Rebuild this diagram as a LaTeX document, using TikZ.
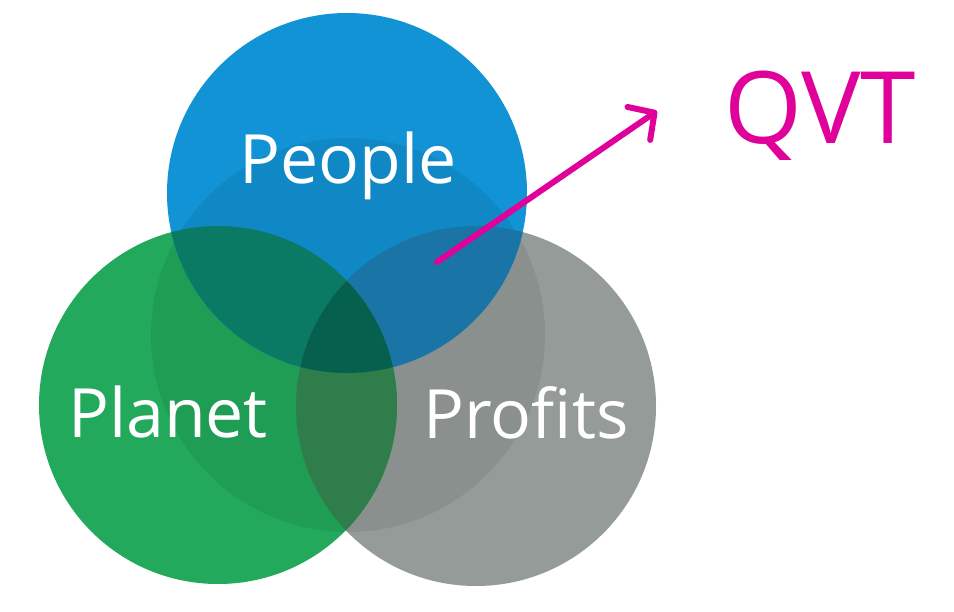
\documentclass[tikz,border=0pt]{standalone}
\usepackage{fontspec}
\setmainfont{Open Sans}
\usetikzlibrary{arrows.meta}
\definecolor{pblue}{HTML}{1193D5}
\definecolor{pgreen}{HTML}{22A95C}
\definecolor{pgray}{HTML}{959B99}
\definecolor{bluegreen}{HTML}{0A7A64}
\definecolor{bluegray}{HTML}{1B74A6}
\definecolor{greengray}{HTML}{2E7D4A}
\definecolor{allthree}{HTML}{05604E}
\definecolor{qvt}{HTML}{E0009A}
\tikzset{
  lbl/.style={text=white, font=\fontsize{68}{68}\selectfont, anchor=base, inner sep=0pt},
  qvtlbl/.style={text=qvt, font=\fontsize{100}{100}\selectfont, anchor=base, inner sep=0pt},
  pointer/.style={draw=qvt, line width=6pt, line cap=round,
    -{Straight Barb[length=19pt, width=40pt, round]}}
}
\begin{document}
\begin{tikzpicture}[x=1pt, y=-1pt]
\useasboundingbox[fill=white] (0,0) rectangle (954,611);
% base circles
\fill[pgray]  (476,406) circle (180);
\fill[pgreen] (218,405) circle (179);
\fill[pblue]  (347,193) circle (180);
% central soft darkening
\begin{scope}
  \clip (476,406) circle (180) (218,405) circle (179) (347,193) circle (180);
  \fill[black, opacity=0.07] (348,335) circle (197);
\end{scope}
% pairwise overlaps
\begin{scope}
  \clip (347,193) circle (180);
  \fill[bluegreen] (218,405) circle (179);
\end{scope}
\begin{scope}
  \clip (347,193) circle (180);
  \fill[bluegray] (476,406) circle (180);
\end{scope}
\begin{scope}
  \clip (218,405) circle (179);
  \fill[greengray] (476,406) circle (180);
\end{scope}
\begin{scope}
  \clip (347,193) circle (180);
  \clip (218,405) circle (179);
  \fill[allthree] (476,406) circle (180);
\end{scope}
% labels
\node[lbl] (people) at (348,183) {People};
\node[lbl] (planet) at (168,437) {Planet};
\node[lbl] (profits) at (526,438) {Profits};
\node[qvtlbl] (qvt) at (820,143) {QVT};
% arrow
\coordinate (from) at (437,262);
\coordinate (to) at (657,111);
\draw[pointer] (from) -- (to);
\end{tikzpicture}
\end{document}
